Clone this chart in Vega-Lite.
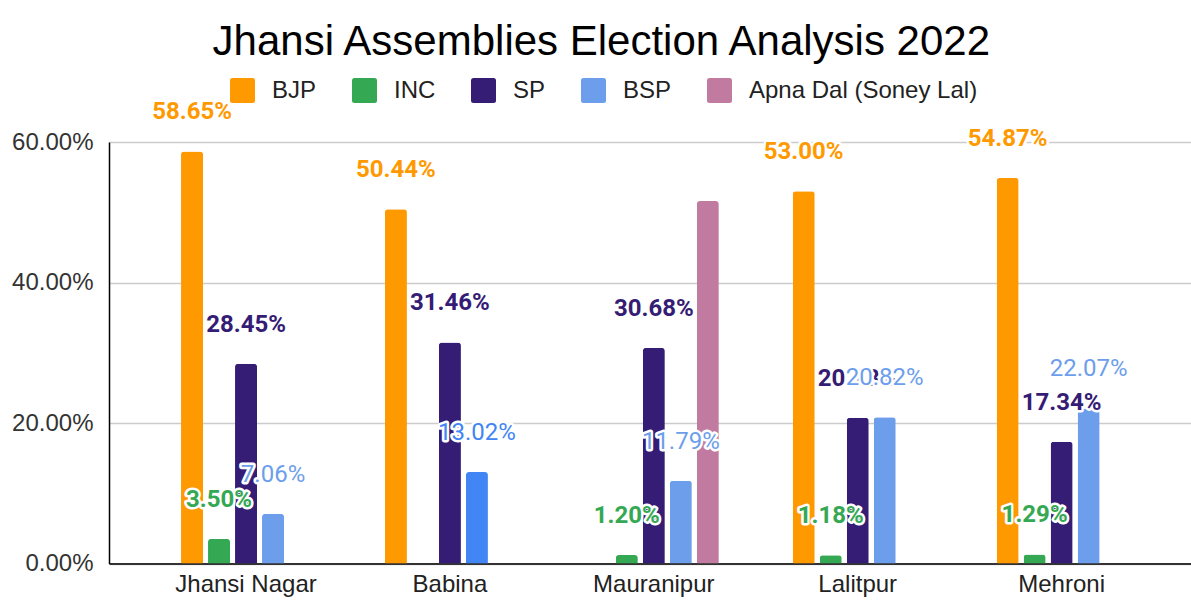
{
  "$schema": "https://vega.github.io/schema/vega-lite/v6.json",
  "width": 1082,
  "height": 421.5,
  "autosize": {"type": "none"},
  "padding": {"left": 109, "top": 142, "right": 0, "bottom": 42.5},
  "background": "white",
  "title": {
    "text": "Jhansi Assemblies Election Analysis 2022",
    "font": "Liberation Sans",
    "fontSize": 42,
    "fontWeight": "normal",
    "color": "#000000",
    "anchor": "middle",
    "frame": "bounds",
    "offset": 14
  },
  "config": {"view": {"stroke": null}},
  "data": {
    "values": [
      {"constituency": "Jhansi Nagar", "party": "BJP", "value": 58.65, "label": "58.65%"},
      {"constituency": "Jhansi Nagar", "party": "INC", "value": 3.50, "label": "3.50%"},
      {"constituency": "Jhansi Nagar", "party": "SP", "value": 28.45, "label": "28.45%"},
      {"constituency": "Jhansi Nagar", "party": "BSP", "value": 7.06, "label": "7.06%"},
      {"constituency": "Babina", "party": "BJP", "value": 50.44, "label": "50.44%"},
      {"constituency": "Babina", "party": "SP", "value": 31.46, "label": "31.46%"},
      {"constituency": "Babina", "party": "BSP", "value": 13.02, "label": "13.02%"},
      {"constituency": "Mauranipur", "party": "INC", "value": 1.20, "label": "1.20%"},
      {"constituency": "Mauranipur", "party": "SP", "value": 30.68, "label": "30.68%"},
      {"constituency": "Mauranipur", "party": "BSP", "value": 11.79, "label": "11.79%"},
      {"constituency": "Mauranipur", "party": "Apna Dal (Soney Lal)", "value": 51.6, "label": ""},
      {"constituency": "Lalitpur", "party": "BJP", "value": 53.00, "label": "53.00%"},
      {"constituency": "Lalitpur", "party": "INC", "value": 1.18, "label": "1.18%"},
      {"constituency": "Lalitpur", "party": "SP", "value": 20.73, "label": "20.73%"},
      {"constituency": "Lalitpur", "party": "BSP", "value": 20.82, "label": "20.82%"},
      {"constituency": "Mehroni", "party": "BJP", "value": 54.87, "label": "54.87%"},
      {"constituency": "Mehroni", "party": "INC", "value": 1.29, "label": "1.29%"},
      {"constituency": "Mehroni", "party": "SP", "value": 17.34, "label": "17.34%"},
      {"constituency": "Mehroni", "party": "BSP", "value": 22.07, "label": "22.07%"}
    ]
  },
  "encoding": {
    "x": {
      "field": "constituency",
      "type": "nominal",
      "sort": ["Jhansi Nagar", "Babina", "Mauranipur", "Lalitpur", "Mehroni"],
      "scale": {"paddingInner": 0.3624, "paddingOuter": 0.3345, "align": 0.528},
      "axis": {
        "title": null,
        "labelAngle": 0,
        "labelFont": "Liberation Sans",
        "labelFontSize": 24,
        "labelColor": "#222222",
        "labelPadding": 9,
        "ticks": false,
        "domainColor": "#333333",
        "domainWidth": 2,
        "grid": false
      }
    },
    "xOffset": {
      "field": "party",
      "type": "nominal",
      "scale": {
        "domain": ["BJP", "INC", "SP", "BSP", "Apna Dal (Soney Lal)"],
        "paddingInner": 0.185,
        "paddingOuter": 0
      }
    },
    "y": {
      "field": "value",
      "type": "quantitative",
      "scale": {"domain": [0, 60], "nice": false},
      "axis": {
        "title": null,
        "values": [0, 20, 40, 60],
        "labelExpr": "format(datum.value, '.2f') + '%'",
        "labelFont": "Liberation Sans",
        "labelFontSize": 24,
        "labelColor": "#333333",
        "labelPadding": 16,
        "ticks": false,
        "domainColor": "#000000",
        "domainWidth": 1.5,
        "gridColor": "#cccccc",
        "gridWidth": 1.5
      }
    }
  },
  "layer": [
    {
      "mark": {"type": "bar", "cornerRadiusTopLeft": 3, "cornerRadiusTopRight": 3},
      "encoding": {
        "color": {
          "field": "party",
          "type": "nominal",
          "scale": {
            "domain": ["BJP", "INC", "SP", "BSP", "Apna Dal (Soney Lal)"],
            "range": ["#FF9900", "#34A853", "#351C75", "#6D9EEB", "#C27BA0"]
          },
          "condition": {"test": "datum.constituency === 'Babina' && datum.party === 'BSP'", "value": "#4285F4"},
          "legend": {
            "orient": "none",
            "legendX": 121,
            "legendY": -64,
            "direction": "horizontal",
            "title": null,
            "symbolType": "M-1,-0.8Q-1,-1,-0.8,-1L0.8,-1Q1,-1,1,-0.8L1,0.8Q1,1,0.8,1L-0.8,1Q-1,1,-1,0.8Z",
            "symbolSize": 625,
            "symbolStrokeWidth": 0,
            "symbolOpacity": 1,
            "labelFont": "Liberation Sans",
            "labelFontSize": 24,
            "labelColor": "#222222",
            "labelOffset": 17,
            "columnPadding": 35,
            "labelLimit": 400
          }
        }
      }
    },
    {
      "transform": [{"filter": "datum.party !== 'BSP'"}],
      "mark": {
        "type": "text",
        "font": "Roboto",
        "fontWeight": "bold",
        "fontSize": 24,
        "baseline": "alphabetic",
        "align": "center",
        "dy": -32,
        "fill": "white",
        "stroke": "white",
        "strokeWidth": 5,
        "strokeJoin": "round"
      },
      "encoding": {"text": {"field": "label"}}
    },
    {
      "transform": [{"filter": "datum.party !== 'BSP'"}],
      "mark": {
        "type": "text",
        "font": "Roboto",
        "fontWeight": "bold",
        "fontSize": 24,
        "baseline": "alphabetic",
        "align": "center",
        "dy": -32
      },
      "encoding": {
        "text": {"field": "label"},
        "color": {"field": "party", "type": "nominal"}
      }
    },
    {
      "transform": [{"filter": "datum.party === 'BSP'"}],
      "mark": {
        "type": "text",
        "font": "Roboto",
        "fontWeight": "normal",
        "fontSize": 24,
        "baseline": "alphabetic",
        "align": "center",
        "dy": -32,
        "fill": "white",
        "stroke": "white",
        "strokeWidth": 5,
        "strokeJoin": "round"
      },
      "encoding": {"text": {"field": "label"}}
    },
    {
      "transform": [{"filter": "datum.party === 'BSP'"}],
      "mark": {
        "type": "text",
        "font": "Roboto",
        "fontWeight": "normal",
        "fontSize": 24,
        "baseline": "alphabetic",
        "align": "center",
        "dy": -32
      },
      "encoding": {
        "text": {"field": "label"},
        "color": {
          "field": "party",
          "type": "nominal",
          "condition": {"test": "datum.constituency === 'Babina'", "value": "#4285F4"}
        }
      }
    }
  ]
}
